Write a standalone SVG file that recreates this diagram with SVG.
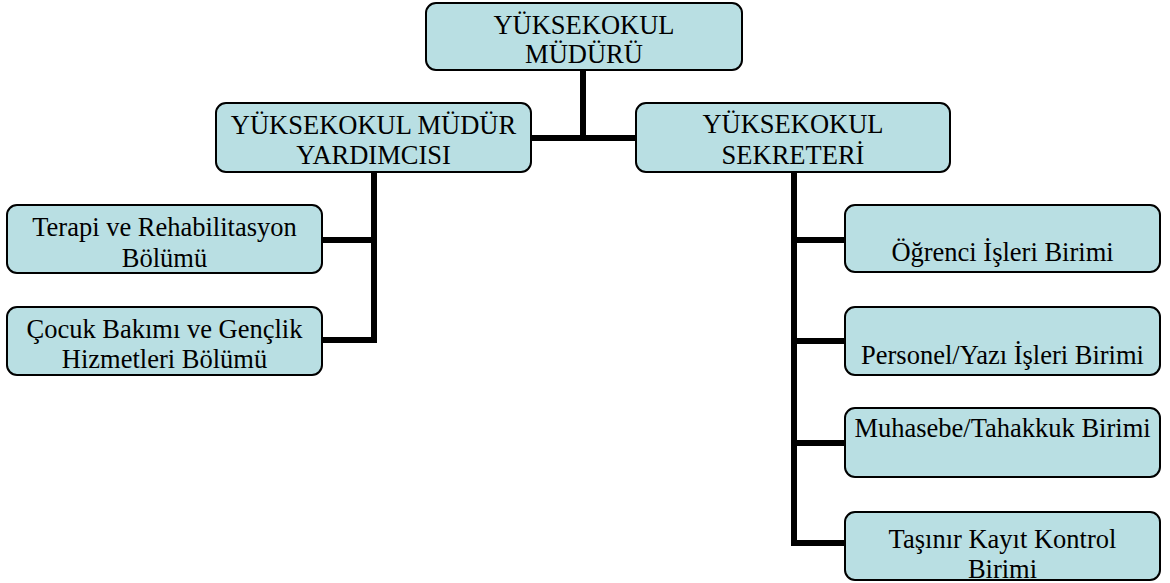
<svg xmlns="http://www.w3.org/2000/svg" width="1170" height="583" viewBox="0 0 1170 583">
<style>
.box{fill:#b9dfe3;stroke:#000;stroke-width:2}
.t{font-family:"Liberation Serif","Times New Roman",serif;font-size:26.5px;fill:#000;text-anchor:middle}
.c{stroke:#000;stroke-width:6;fill:none;stroke-linecap:square}
</style>
<rect width="1170" height="583" fill="#fff"/>
<g id="connectors">
<path class="c" d="M583,70 V138 M531,138 H636"/>
<path class="c" d="M374,172 V340 M322,240 H374 M322,340 H374"/>
<path class="c" d="M794,172 V543 M794,240 H845 M794,341 H845 M794,443 H845 M794,543 H845"/>
</g>
<g id="mudur">
<rect class="box" x="426" y="3" width="316" height="67" rx="10"/>
<text class="t" x="584" y="34">YÜKSEKOKUL</text>
<text class="t" x="584" y="63">MÜDÜRÜ</text>
</g>
<g id="yardimci">
<rect class="box" x="216" y="103" width="315" height="69" rx="10"/>
<text class="t" x="373.5" y="134">YÜKSEKOKUL MÜDÜR</text>
<text class="t" x="373.5" y="164">YARDIMCISI</text>
</g>
<g id="sekreter">
<rect class="box" x="636" y="103" width="314" height="69" rx="10"/>
<text class="t" x="793" y="133">YÜKSEKOKUL</text>
<text class="t" x="793" y="164">SEKRETERİ</text>
</g>
<g id="terapi">
<rect class="box" x="7" y="205" width="315" height="68" rx="10"/>
<text class="t" x="164.5" y="236">Terapi ve Rehabilitasyon</text>
<text class="t" x="164.5" y="267">Bölümü</text>
</g>
<g id="cocuk">
<rect class="box" x="7" y="307" width="315" height="68" rx="10"/>
<text class="t" x="164.5" y="338">Çocuk Bakımı ve Gençlik</text>
<text class="t" x="164.5" y="368">Hizmetleri Bölümü</text>
</g>
<g id="ogrenci">
<rect class="box" x="845" y="205" width="315" height="67" rx="10"/>
<text class="t" x="1002.5" y="261">Öğrenci İşleri Birimi</text>
</g>
<g id="personel">
<rect class="box" x="845" y="307" width="315" height="68" rx="10"/>
<text class="t" x="1002.5" y="364">Personel/Yazı İşleri Birimi</text>
</g>
<g id="muhasebe">
<rect class="box" x="845" y="408" width="315" height="69" rx="10"/>
<text class="t" x="1002.5" y="437">Muhasebe/Tahakkuk Birimi</text>
</g>
<g id="tasinir">
<rect class="box" x="845" y="512" width="315" height="68" rx="10"/>
<text class="t" x="1002.5" y="548">Taşınır Kayıt Kontrol</text>
<text class="t" x="1002.5" y="578">Birimi</text>
</g>
</svg>
